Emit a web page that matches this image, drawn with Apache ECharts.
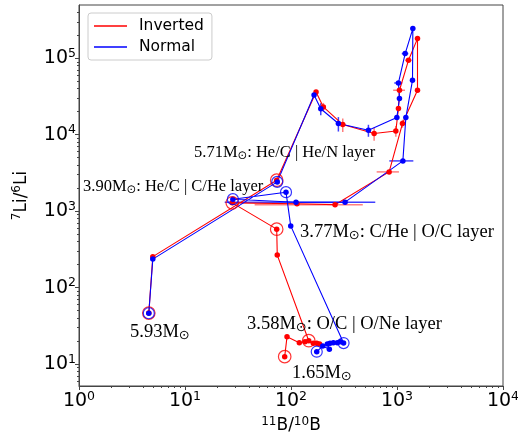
<!DOCTYPE html>
<html>
<head>
<meta charset="utf-8">
<script src="https://cdn.jsdelivr.net/npm/echarts@6/dist/echarts.min.js"></script>
<style>
  html, body { margin: 0; padding: 0; background: #fff; }
  #chart { width: 518px; height: 435px; }
</style>
</head>
<body>
<div id="chart"></div>
<script>
// Inverted (red) track, outer -> inner mass coordinate
const invertedB  = [4.555, 4.97, 73.3, 172.3, 201.9, 307.8, 608.3, 975.2, 1032, 1055, 1283, 1561, 1561, 1126, 843, 260.4, 113.9, 27.9, 73.3, 74.2, 147.0, 162.4, 174.9, 185.9, 135.6, 119.8, 91.7, 87.2];
const invertedLi = [46.4, 254, 2542, 36270, 23090, 13590, 10370, 11210, 22000, 38170, 94170, 180900, 38170, 14010, 3264, 1216, 1253, 1284, 582, 266, 20.2, 18.65, 18.65, 18.25, 19.6, 19.0, 22.7, 12.5];
const invertedBErr  = [0, 0, 0, 0, 0, 0, 0, 0, 0, 135, 90, 0, 0, 0, 200, 215, 0, 0, 0, 0, 0, 0, 0, 0, 0, 0, 0, 0];
const invertedLiErr = [0, 0, 0, 0, 3000, 2700, 2050, 1800, 0, 0, 0, 0, 0, 1700, 0, 0, 0, 0, 0, 0, 0, 0, 0, 0, 0, 0, 0, 0];
const invertedCircled = [0, 2, 17, 18, 20, 27];

// Normal (blue) track
const normalB  = [4.555, 4.97, 74.2, 165, 190.9, 279.9, 537.5, 996.8, 1055, 1032, 1194, 1411, 1400, 1212, 1136, 323.7, 111.5, 28.3, 89.7, 99.4, 313.3, 290.3, 273.7, 250.9, 233.6, 220.3, 230.1, 199.3, 174.9];
const normalLi = [46.2, 236, 2415, 33140, 21870, 14010, 11450, 16780, 29730, 47540, 115200, 244500, 51560, 16780, 4545, 1311, 1311, 1435, 1772, 642, 18.8, 19.6, 19.0, 19.0, 18.65, 18.25, 15.6, 17.2, 14.5];
const normalBErr  = [0, 0, 0, 0, 0, 0, 0, 0, 0, 90, 85, 0, 0, 0, 290, 300, 0, 0, 0, 0, 0, 0, 0, 0, 0, 0, 0, 0, 0];
const normalLiErr = [0, 0, 0, 0, 3900, 3000, 2050, 0, 0, 0, 0, 0, 0, 0, 0, 0, 0, 0, 0, 0, 0, 0, 0, 0, 0, 0, 0, 0, 0];
const normalCircled = [0, 2, 17, 18, 20, 28];

const seriesNames = ['Inverted', 'Normal'];
const majorB = [1, 10, 100, 1000, 10000];
const majorLi = [10, 100, 1000, 10000, 100000];
const bMin = 1, bMax = 10000;
const liMin = 5.16, liMax = 4.98e5;

function minorTicks(lo, hi) {
    let out = [];
    for (let d = Math.floor(Math.log10(lo)); d < Math.ceil(Math.log10(hi)); d++) {
        for (let m = 2; m <= 9; m++) {
            let v = m * Math.pow(10, d);
            if (v > lo && v < hi) out.push(v);
        }
    }
    return out;
}

const pts = (xs, ys) => xs.map((x, i) => [x, ys[i]]);
const pick = (xs, ys, idx) => idx.map(i => [xs[i], ys[i]]);
const errs = (xs, ys, xe, ye) => xs.map((x, i) => [x, ys[i], xe[i], ye[i]]).filter(d => d[2] > 0 || d[3] > 0);

function errorBars(color) {
    return function (params, api) {
        let x = api.value(0), y = api.value(1), xe = api.value(2), ye = api.value(3);
        let children = [];
        if (xe > 0) {
            let a = api.coord([x - xe, y]), b = api.coord([x + xe, y]);
            children.push({type: 'line', shape: {x1: a[0], y1: a[1], x2: b[0], y2: b[1]}, style: {stroke: color, lineWidth: 1.5}});
        }
        if (ye > 0) {
            let a = api.coord([x, y - ye]), b = api.coord([x, y + ye]);
            children.push({type: 'line', shape: {x1: a[0], y1: a[1], x2: b[0], y2: b[1]}, style: {stroke: color, lineWidth: 1.5}});
        }
        return {type: 'group', children: children};
    };
}

const tickFormatter = v => '10{sup|' + Math.round(Math.log10(v)) + '}';
const tickRich = {sup: {fontSize: 12.5, fontFamily: 'DejaVu Sans', color: '#000', padding: [0, 0, 9, 0]}};
const nameRich = {sup: {fontSize: 12, fontFamily: 'DejaVu Sans', color: '#000', padding: [0, 0, 9, 0]}};
const axisColor = '#444';

function trackSeries(name, color, xs, ys) {
    return {
        name: name, type: 'line', data: pts(xs, ys),
        symbol: 'circle', symbolSize: 5.5, showSymbol: true, showAllSymbol: true,
        lineStyle: {color: color, width: 1.1}, itemStyle: {color: color},
        emphasis: {disabled: true}, z: 3
    };
}

function circleSeries(color, size, xs, ys, idx) {
    return {
        type: 'scatter', data: pick(xs, ys, idx), symbol: 'circle', symbolSize: size, silent: true,
        itemStyle: {color: 'rgba(0,0,0,0)', borderColor: color, borderWidth: 1.2}, z: 4
    };
}

function annotation(x, y, text, size) {
    return {
        type: 'text', x: x, y: y, silent: true, z: 10,
        style: {
            text: text, fill: '#000', fontFamily: 'Liberation Serif', fontSize: size,
            align: 'left', verticalAlign: 'middle',
            rich: {s: {fontSize: size * 0.7, fontFamily: 'DejaVu Sans', fill: '#000', padding: [size * 0.4, 0, 0, 0]}}
        }
    };
}

let chart = echarts.init(document.getElementById('chart'));

let option = {
    animation: false,
    backgroundColor: '#fff',
    grid: {left: 79, right: 15, top: 5, bottom: 49, show: true, borderColor: axisColor, borderWidth: 1,
           containLabel: false, outerBoundsMode: 'none'},
    legend: {
        data: seriesNames, orient: 'vertical', left: 88, top: 13,
        padding: [5, 8, 5, 6], itemGap: 5, itemWidth: 33, itemHeight: 1.5, icon: 'rect',
        borderColor: '#ccc', borderWidth: 1, borderRadius: 3, backgroundColor: 'rgba(255,255,255,0.8)',
        textStyle: {fontSize: 15.5, fontFamily: 'DejaVu Sans', color: '#000', padding: [0, 0, 0, 7]}
    },
    xAxis: [
        {
            type: 'log', logBase: 10, min: bMin, max: bMax,
            name: '{sup|11}B/{sup|10}B', nameLocation: 'middle', nameGap: 13,
            nameTextStyle: {fontSize: 17, fontFamily: 'DejaVu Sans', color: '#000', rich: nameRich},
            axisLine: {show: true, lineStyle: {color: axisColor}},
            axisTick: {show: true, inside: false, length: 4, customValues: majorB, lineStyle: {color: axisColor}},
            axisLabel: {customValues: majorB, formatter: tickFormatter, rich: tickRich, fontSize: 19,
                        fontFamily: 'DejaVu Sans', color: '#000', margin: 4},
            splitLine: {show: false}
        },
        {
            type: 'log', logBase: 10, min: bMin, max: bMax, position: 'bottom',
            axisLine: {show: false}, axisLabel: {show: false}, splitLine: {show: false},
            axisTick: {show: true, inside: false, length: 2, customValues: minorTicks(bMin, bMax), lineStyle: {color: axisColor}}
        }
    ],
    yAxis: [
        {
            type: 'log', logBase: 10, min: liMin, max: liMax,
            name: '{sup|7}Li/{sup|6}Li', nameLocation: 'middle', nameRotate: 90, nameGap: 47,
            nameTextStyle: {fontSize: 17, fontFamily: 'DejaVu Sans', color: '#000', rich: nameRich},
            axisLine: {show: true, lineStyle: {color: axisColor}},
            axisTick: {show: true, inside: false, length: 4, customValues: majorLi, lineStyle: {color: axisColor}},
            axisLabel: {customValues: majorLi, formatter: tickFormatter, rich: tickRich, fontSize: 19,
                        fontFamily: 'DejaVu Sans', color: '#000', margin: 3},
            splitLine: {show: false}
        },
        {
            type: 'log', logBase: 10, min: liMin, max: liMax, position: 'left',
            axisLine: {show: false}, axisLabel: {show: false}, splitLine: {show: false},
            axisTick: {show: true, inside: false, length: 2, customValues: minorTicks(liMin, liMax), lineStyle: {color: axisColor}}
        }
    ],
    series: [
        trackSeries(seriesNames[0], '#ff0000', invertedB, invertedLi),
        {type: 'custom', silent: true, z: 3, renderItem: errorBars('rgba(255,40,40,0.6)'),
         data: errs(invertedB, invertedLi, invertedBErr, invertedLiErr)},
        trackSeries(seriesNames[1], '#0000ff', normalB, normalLi),
        {type: 'custom', silent: true, z: 3, renderItem: errorBars('rgba(0,0,255,0.75)'),
         data: errs(normalB, normalLi, normalBErr, normalLiErr)},
        circleSeries('#ff0000', 12.5, invertedB, invertedLi, invertedCircled),
        circleSeries('#0000ff', 11, normalB, normalLi, normalCircled)
    ],
    graphic: [
        annotation(194, 153, '5.71M{s|⊙}: He/C | He/N layer', 16.5),
        annotation(83, 187, '3.90M{s|⊙}: He/C | C/He layer', 16.5),
        annotation(300, 232, '3.77M{s|⊙}: C/He | O/C layer', 18.5),
        annotation(130, 332, '5.93M{s|⊙}', 18.5),
        annotation(247, 324, '3.58M{s|⊙}: O/C | O/Ne layer', 18.5),
        annotation(292, 373, '1.65M{s|⊙}', 18.5)
    ]
};

chart.setOption(option);
</script>
</body>
</html>
